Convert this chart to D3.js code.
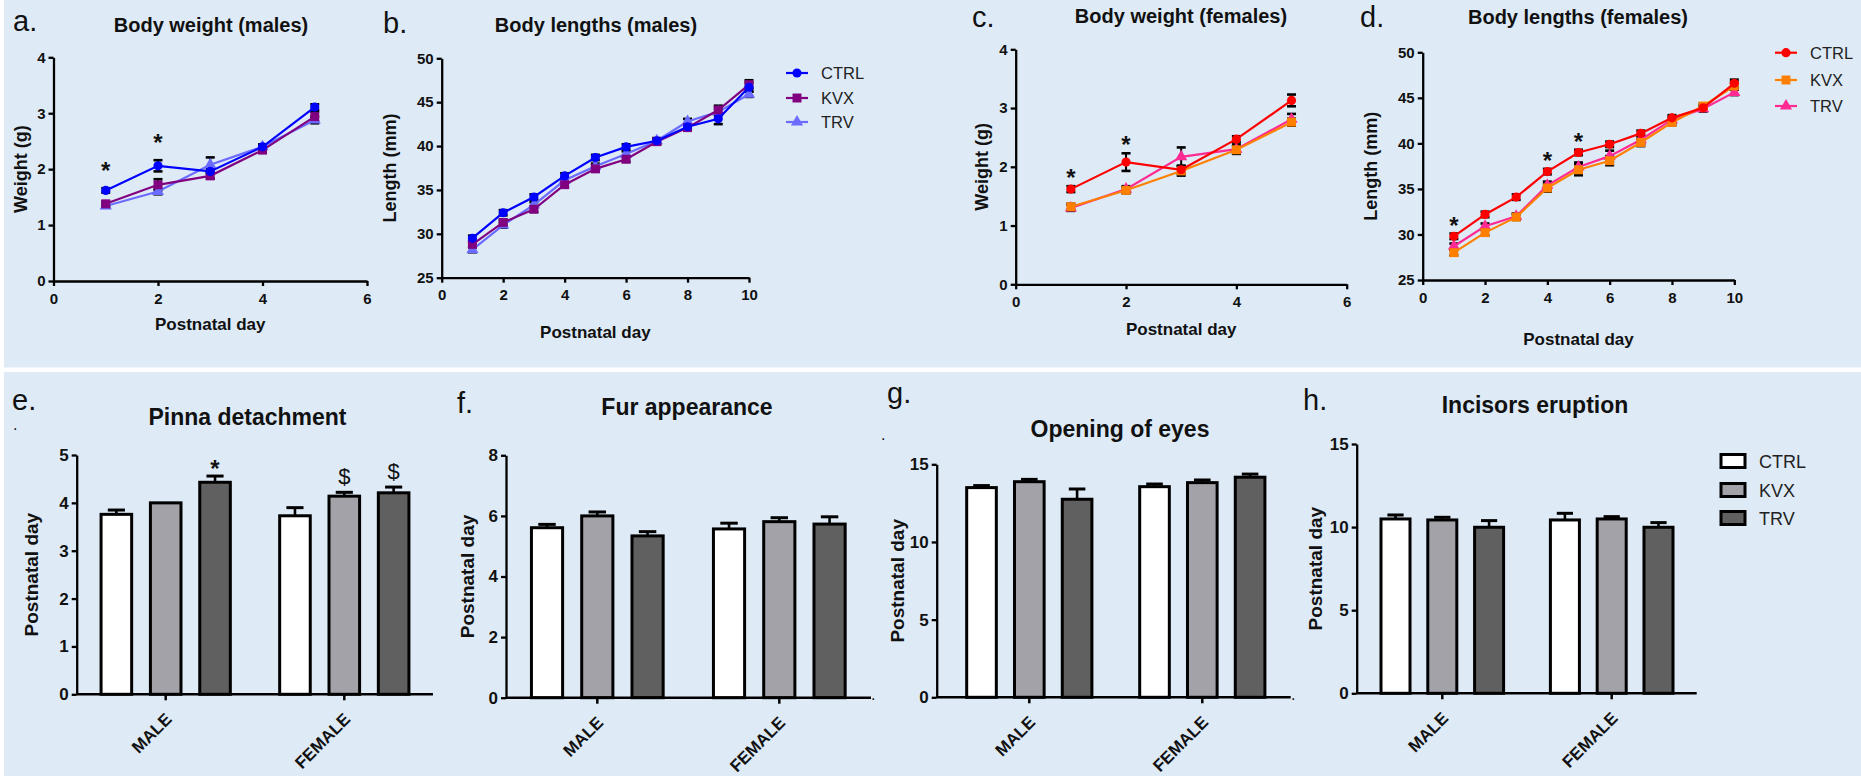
<!DOCTYPE html>
<html>
<head>
<meta charset="utf-8">
<script src="https://cdn.jsdelivr.net/npm/d3@7"></script>
<style>
  body { margin: 0; background: #fff; }
  text { font-family: "Liberation Sans", Arial, sans-serif; }
  .letter { font-family: "Liberation Sans", Arial, sans-serif; font-size: 29px; fill: #111; }
</style>
</head>
<body>
<div id="fig"></div>
<script>
// ---- data ----
const groups = ["CTRL", "KVX", "TRV"];
const sexes = ["MALE", "FEMALE"];
const days5 = [1, 2, 3, 4, 5];
const days10 = [1, 2, 3, 4, 5, 6, 7, 8, 9, 10];

// a. body weight, males
const wMaleCtrl = [1.62, 2.06, 1.96, 2.40, 3.11];
const wMaleKvx  = [1.38, 1.72, 1.88, 2.34, 2.94];
const wMaleTrv  = [1.34, 1.60, 2.08, 2.40, 2.88];
const wMaleCtrlSem = [0.04, 0.10, 0.04, 0.04, 0.05];
const wMaleKvxSem  = [0.04, 0.10, 0.05, 0.04, 0.09];
const wMaleTrvSem  = [0.03, 0.05, 0.13, 0.04, 0.06];

// b. body length, males
const lMaleCtrl = [29.5, 32.4, 34.2, 36.6, 38.7, 39.9, 40.6, 42.2, 43.1, 46.7];
const lMaleKvx  = [28.8, 31.3, 32.8, 35.6, 37.4, 38.5, 40.5, 42.1, 44.1, 47.0];
const lMaleTrv  = [28.2, 31.0, 33.3, 36.1, 37.7, 39.1, 40.6, 42.8, 43.9, 45.9];
const lMaleCtrlSem = [0.3, 0.3, 0.3, 0.3, 0.3, 0.3, 0.3, 0.3, 0.6, 0.5];
const lMaleKvxSem  = [0.3, 0.3, 0.3, 0.3, 0.3, 0.3, 0.3, 0.3, 0.5, 0.5];
const lMaleTrvSem  = [0.3, 0.3, 0.3, 0.3, 0.3, 0.3, 0.3, 0.3, 0.4, 0.3];

// c. body weight, females
const wFemCtrl = [1.62, 2.08, 1.95, 2.47, 3.13];
const wFemKvx  = [1.32, 1.60, 1.93, 2.29, 2.76];
const wFemTrv  = [1.30, 1.62, 2.17, 2.30, 2.81];
const wFemCtrlSem = [0.05, 0.15, 0.07, 0.05, 0.10];
const wFemKvxSem  = [0.05, 0.05, 0.08, 0.06, 0.06];
const wFemTrvSem  = [0.05, 0.05, 0.16, 0.08, 0.09];

// d. body length, females
const lFemCtrl = [29.8, 32.2, 34.1, 36.9, 39.0, 39.9, 41.1, 42.8, 43.9, 46.6];
const lFemKvx  = [28.0, 30.2, 31.9, 35.1, 37.1, 38.1, 40.1, 42.3, 44.1, 46.3];
const lFemTrv  = [28.7, 30.9, 32.0, 35.4, 37.4, 38.6, 40.4, 42.6, 43.8, 45.6];
const lFemCtrlSem = [0.3, 0.3, 0.3, 0.3, 0.3, 0.3, 0.3, 0.3, 0.3, 0.4];
const lFemKvxSem  = [0.3, 0.3, 0.3, 0.4, 0.6, 0.5, 0.4, 0.3, 0.3, 0.4];
const lFemTrvSem  = [0.3, 0.3, 0.3, 0.4, 0.5, 0.6, 0.5, 0.3, 0.3, 0.3];

// e-h. developmental milestones (postnatal day), [CTRL, KVX, TRV]
const pinnaMale = [3.76, 4.00, 4.43], pinnaFemale = [3.73, 4.14, 4.21];
const pinnaMaleSem = [0.09, 0, 0.13], pinnaFemaleSem = [0.17, 0.08, 0.12];
const furMale = [5.61, 6.00, 5.34], furFemale = [5.57, 5.81, 5.73];
const furMaleSem = [0.11, 0.13, 0.14], furFemaleSem = [0.19, 0.13, 0.24];
const eyesMale = [13.50, 13.88, 12.75], eyesFemale = [13.56, 13.82, 14.17];
const eyesMaleSem = [0.13, 0.15, 0.66], eyesFemaleSem = [0.17, 0.17, 0.20];
const incMale = [10.49, 10.43, 9.99], incFemale = [10.43, 10.49, 9.99];
const incMaleSem = [0.24, 0.16, 0.40], incFemaleSem = [0.40, 0.14, 0.28];

const pinnaMarks = [["MALE", "TRV", "*"], ["FEMALE", "KVX", "$"], ["FEMALE", "TRV", "$"]];
const starsWeightMale = [1, 2];
const starsWeightFem = [1, 2];
const starsLengthFem = [1, 4, 5];

// ---- figure ----
const W = 1861, H = 776;
const svg = d3.select("#fig").append("svg")
  .attr("width", W).attr("height", H);

svg.append("rect").attr("width", W).attr("height", H).attr("fill", "#deebf7");
svg.append("rect").attr("width", 4).attr("height", H).attr("fill", "#fff");
svg.append("rect").attr("y", 367.5).attr("width", W).attr("height", 4.5).attr("fill", "#fff");

const maleCols = ["#0000ff", "#800080", "#6b6bff"];
const femCols = ["#ff0000", "#ff8000", "#ff2a92"];
const shapes = [d3.symbolCircle, d3.symbolSquare, d3.symbolTriangle];
const shapeSize = [66, 80, 64];
const barCols = ["#ffffff", "#a3a2a8", "#606060"];
const fmt = d3.format("d");

function styleAxis(g, fs) {
  g.selectAll("path, line").attr("stroke", "#000").attr("stroke-width", 2.3);
  g.selectAll("text").attr("fill", "#111").attr("font-size", fs).attr("font-weight", "bold")
    .attr("font-family", "'Liberation Sans', Arial, sans-serif");
}

function lineChart(p) {
  const g = svg.append("g");
  const x = d3.scaleLinear().domain(p.xDom).range(p.xr);
  const y = d3.scaleLinear().domain(p.yDom).range(p.yr);

  g.append("text").attr("class", "letter").attr("x", p.letterX).attr("y", p.letterY).text(p.letter);
  g.append("text").attr("x", p.titleX).attr("y", p.titleY).attr("text-anchor", "middle")
    .attr("font-size", 20).attr("font-weight", "bold").attr("fill", "#111").text(p.title);

  const ya = g.append("g").attr("transform", `translate(${p.xr[0]},0)`)
    .call(d3.axisLeft(y).tickValues(p.yTicks).tickFormat(fmt).tickSize(5).tickSizeOuter(0).tickPadding(3));
  styleAxis(ya, 15);
  const xa = g.append("g").attr("transform", `translate(0,${p.yr[0]})`)
    .call(d3.axisBottom(x).tickValues(p.xTicks).tickFormat(fmt).tickSize(5).tickSizeOuter(0).tickPadding(7));
  styleAxis(xa, 15);

  g.append("text").attr("x", (p.xr[0] + p.xr[1]) / 2).attr("y", p.xlabY).attr("text-anchor", "middle")
    .attr("font-size", 17).attr("font-weight", "bold").attr("fill", "#111").text("Postnatal day");
  g.append("text").attr("transform", `translate(${p.ylabX},${(p.yr[0] + p.yr[1]) / 2}) rotate(-90)`)
    .attr("text-anchor", "middle").attr("font-size", 18).attr("font-weight", "bold").attr("fill", "#111")
    .text(p.ylab);

  const line = d3.line().x((d, i) => x(p.days[i])).y(d => y(d));

  // error bars first
  p.series.forEach(s => {
    s.values.forEach((v, i) => {
      const cx = x(p.days[i]), lo = y(v - s.sem[i]), hi = y(v + s.sem[i]);
      g.append("line").attr("x1", cx).attr("x2", cx).attr("y1", lo).attr("y2", hi)
        .attr("stroke", "#000").attr("stroke-width", 2);
      [lo, hi].forEach(yy => g.append("line").attr("x1", cx - 4.5).attr("x2", cx + 4.5)
        .attr("y1", yy).attr("y2", yy).attr("stroke", "#000").attr("stroke-width", 2.6));
    });
  });
  p.series.slice().reverse().forEach((s) => {
    g.append("path").datum(s.values).attr("d", line).attr("fill", "none")
      .attr("stroke", s.color).attr("stroke-width", 2.2);
    g.selectAll(null).data(s.values).join("path")
      .attr("transform", (d, i) => `translate(${x(p.days[i])},${y(d)})`)
      .attr("d", d3.symbol(s.shape, s.size)).attr("fill", s.color);
  });

  // significance stars over CTRL
  const ctrl = p.series[0];
  p.stars.forEach(day => {
    const i = p.days.indexOf(day);
    g.append("text").attr("x", x(day)).attr("y", y(ctrl.values[i] + ctrl.sem[i]) + p.starOff)
      .attr("text-anchor", "middle").attr("font-size", 24).attr("font-weight", "bold")
      .attr("fill", "#111").text("*");
  });

  if (p.legend) {
    p.series.forEach((s, i) => {
      const ly = p.legend.y[i];
      g.append("line").attr("x1", p.legend.x).attr("x2", p.legend.x + 22).attr("y1", ly).attr("y2", ly)
        .attr("stroke", s.color).attr("stroke-width", 2.2);
      g.append("path").attr("transform", `translate(${p.legend.x + 11},${ly})`)
        .attr("d", d3.symbol(s.shape, s.size)).attr("fill", s.color);
      g.append("text").attr("x", p.legend.x + 35).attr("y", ly + 6).attr("font-size", 16.5)
        .attr("fill", "#222").text(s.name);
    });
  }
}

function mkSeries(vals, sems, cols) {
  return groups.map((name, i) => ({ name, values: vals[i], sem: sems[i], color: cols[i], shape: shapes[i], size: shapeSize[i] }));
}

lineChart({
  letter: "a.", letterX: 13, letterY: 31, title: "Body weight (males)", titleX: 211, titleY: 32,
  xr: [53.5, 367], yr: [281, 57.3], xDom: [0, 6], xTicks: [0, 2, 4, 6], yDom: [0, 4], yTicks: [0, 1, 2, 3, 4],
  xlabY: 330, ylab: "Weight (g)", ylabX: 27, days: days5,
  series: mkSeries([wMaleCtrl, wMaleKvx, wMaleTrv], [wMaleCtrlSem, wMaleKvxSem, wMaleTrvSem], maleCols),
  stars: starsWeightMale, starOff: -9, legend: null
});
lineChart({
  letter: "b.", letterX: 383, letterY: 33, title: "Body lengths (males)", titleX: 596, titleY: 32,
  xr: [441.7, 749], yr: [277.7, 58.3], xDom: [0, 10], xTicks: [0, 2, 4, 6, 8, 10], yDom: [25, 50],
  yTicks: [25, 30, 35, 40, 45, 50], xlabY: 338, ylab: "Length (mm)", ylabX: 396, days: days10,
  series: mkSeries([lMaleCtrl, lMaleKvx, lMaleTrv], [lMaleCtrlSem, lMaleKvxSem, lMaleTrvSem], maleCols),
  stars: [], starOff: 0, legend: { x: 786, y: [73, 98, 122] }
});
lineChart({
  letter: "c.", letterX: 972, letterY: 27, title: "Body weight (females)", titleX: 1181, titleY: 23,
  xr: [1015.7, 1346.7], yr: [284.3, 49.3], xDom: [0, 6], xTicks: [0, 2, 4, 6], yDom: [0, 4], yTicks: [0, 1, 2, 3, 4],
  xlabY: 335, ylab: "Weight (g)", ylabX: 988, days: days5,
  series: mkSeries([wFemCtrl, wFemKvx, wFemTrv], [wFemCtrlSem, wFemKvxSem, wFemTrvSem], femCols),
  stars: starsWeightFem, starOff: 0, legend: null
});
lineChart({
  letter: "d.", letterX: 1360, letterY: 27, title: "Body lengths (females)", titleX: 1578, titleY: 24,
  xr: [1422.7, 1734.3], yr: [280, 52.3], xDom: [0, 10], xTicks: [0, 2, 4, 6, 8, 10], yDom: [25, 50],
  yTicks: [25, 30, 35, 40, 45, 50], xlabY: 345, ylab: "Length (mm)", ylabX: 1377, days: days10,
  series: mkSeries([lFemCtrl, lFemKvx, lFemTrv], [lFemCtrlSem, lFemKvxSem, lFemTrvSem], femCols),
  stars: starsLengthFem, starOff: 0, legend: { x: 1775, y: [52.7, 80, 106] }
});

function barChart(p) {
  const g = svg.append("g");
  const step = p.c2 - p.c1;
  const x0 = d3.scaleBand().domain(sexes).range([p.c1 - step / 2, p.c2 + step / 2]).padding(0);
  const x1 = d3.scaleBand().domain(groups).range([0, x0.bandwidth()]).paddingInner(0.38).paddingOuter(0.5);
  const y = d3.scaleLinear().domain(p.yDom).range(p.yr);

  g.append("text").attr("class", "letter").attr("x", p.letterX).attr("y", p.letterY).text(p.letter);
  g.append("text").attr("x", p.titleX).attr("y", p.titleY).attr("text-anchor", "middle")
    .attr("font-size", 23).attr("font-weight", "bold").attr("fill", "#111").text(p.title);

  const rows = sexes.map((sx, k) => ({ sx, vals: p.vals[k], sems: p.sems[k] }));
  rows.forEach(r => {
    r.vals.forEach((v, i) => {
      const bx = x0(r.sx) + x1(groups[i]), bw = x1.bandwidth(), cx = bx + bw / 2;
      if (r.sems[i] > 0) {
        const top = y(v + r.sems[i]);
        g.append("line").attr("x1", cx).attr("x2", cx).attr("y1", y(v)).attr("y2", top)
          .attr("stroke", "#000").attr("stroke-width", 2.6);
        g.append("line").attr("x1", cx - bw * 0.28).attr("x2", cx + bw * 0.28).attr("y1", top).attr("y2", top)
          .attr("stroke", "#000").attr("stroke-width", 3);
      }
      g.append("rect").attr("x", bx).attr("y", y(v)).attr("width", bw).attr("height", y(0) - y(v))
        .attr("fill", barCols[i]).attr("stroke", "#000").attr("stroke-width", 3);
    });
  });

  (p.marks || []).forEach(([sx, grp, sym]) => {
    const k = sexes.indexOf(sx), i = groups.indexOf(grp);
    const cx = x0(sx) + x1(grp) + x1.bandwidth() / 2;
    const top = y(p.vals[k][i] + p.sems[k][i]);
    const star = sym === "*";
    g.append("text").attr("x", cx).attr("y", star ? top + 1 : top - 8).attr("text-anchor", "middle")
      .attr("font-size", star ? 24 : 22).attr("font-weight", star ? "bold" : "normal")
      .attr("fill", "#111").text(sym);
  });

  const ya = g.append("g").attr("transform", `translate(${p.yAxisX},0)`)
    .call(d3.axisLeft(y).tickValues(p.yTicks).tickFormat(fmt).tickSize(5).tickSizeOuter(0).tickPadding(3));
  styleAxis(ya, 17);
  g.append("line").attr("x1", p.yAxisX).attr("x2", p.axisEnd).attr("y1", y(0)).attr("y2", y(0))
    .attr("stroke", "#000").attr("stroke-width", 2.5);
  sexes.forEach(sx => {
    const cx = x0(sx) + x0.bandwidth() / 2;
    g.append("line").attr("x1", cx).attr("x2", cx).attr("y1", y(0)).attr("y2", y(0) + 6)
      .attr("stroke", "#000").attr("stroke-width", 2.5);
    g.append("text").attr("transform", `translate(${cx + 7},${y(0) + 26}) rotate(-45)`)
      .attr("text-anchor", "end").attr("font-size", 17).attr("font-weight", "bold").attr("fill", "#111")
      .text(sx);
  });

  g.append("text").attr("transform", `translate(${p.ylabX},${(p.yr[0] + p.yr[1]) / 2}) rotate(-90)`)
    .attr("text-anchor", "middle").attr("font-size", 19).attr("font-weight", "bold").attr("fill", "#111")
    .text("Postnatal day");

  if (p.legend) {
    groups.forEach((name, i) => {
      const ly = p.legend.y[i];
      g.append("rect").attr("x", p.legend.x).attr("y", ly - 6.5).attr("width", 24).attr("height", 13)
        .attr("fill", barCols[i]).attr("stroke", "#000").attr("stroke-width", 3);
      g.append("text").attr("x", p.legend.x + 38).attr("y", ly + 6.5).attr("font-size", 18)
        .attr("fill", "#222").text(name);
    });
  }
}

barChart({
  letter: "e.", letterX: 12, letterY: 410, title: "Pinna detachment", titleX: 247.5, titleY: 425,
  yAxisX: 76.7, axisEnd: 433, c1: 165.7, c2: 344.3, yr: [694.3, 455], yDom: [0, 5], yTicks: [0, 1, 2, 3, 4, 5],
  ylabX: 38, vals: [pinnaMale, pinnaFemale], sems: [pinnaMaleSem, pinnaFemaleSem], marks: pinnaMarks
});
barChart({
  letter: "f.", letterX: 457, letterY: 413, title: "Fur appearance", titleX: 687, titleY: 415,
  yAxisX: 506, axisEnd: 871, c1: 597.3, c2: 779.3, yr: [697.7, 455.3], yDom: [0, 8], yTicks: [0, 2, 4, 6, 8],
  ylabX: 474, vals: [furMale, furFemale], sems: [furMaleSem, furFemaleSem]
});
barChart({
  letter: "g.", letterX: 887, letterY: 403, title: "Opening of eyes", titleX: 1120, titleY: 437,
  yAxisX: 936.7, axisEnd: 1290.7, c1: 1029.3, c2: 1202.3, yr: [697.3, 464.3], yDom: [0, 15], yTicks: [0, 5, 10, 15],
  ylabX: 904, vals: [eyesMale, eyesFemale], sems: [eyesMaleSem, eyesFemaleSem]
});
barChart({
  letter: "h.", letterX: 1303, letterY: 410, title: "Incisors eruption", titleX: 1535, titleY: 413,
  yAxisX: 1356.7, axisEnd: 1696.7, c1: 1442.3, c2: 1611.7, yr: [693.3, 444], yDom: [0, 15], yTicks: [0, 5, 10, 15],
  ylabX: 1322, vals: [incMale, incFemale], sems: [incMaleSem, incFemaleSem],
  legend: { x: 1721, y: [461, 490, 518] }
});

// stray dots present in the original figure
[[13, 430], [881, 440], [871, 700], [1291, 700]].forEach(([dx, dy]) =>
  svg.append("text").attr("x", dx).attr("y", dy).attr("font-size", 16).attr("fill", "#111").text("."));
</script>
</body>
</html>
